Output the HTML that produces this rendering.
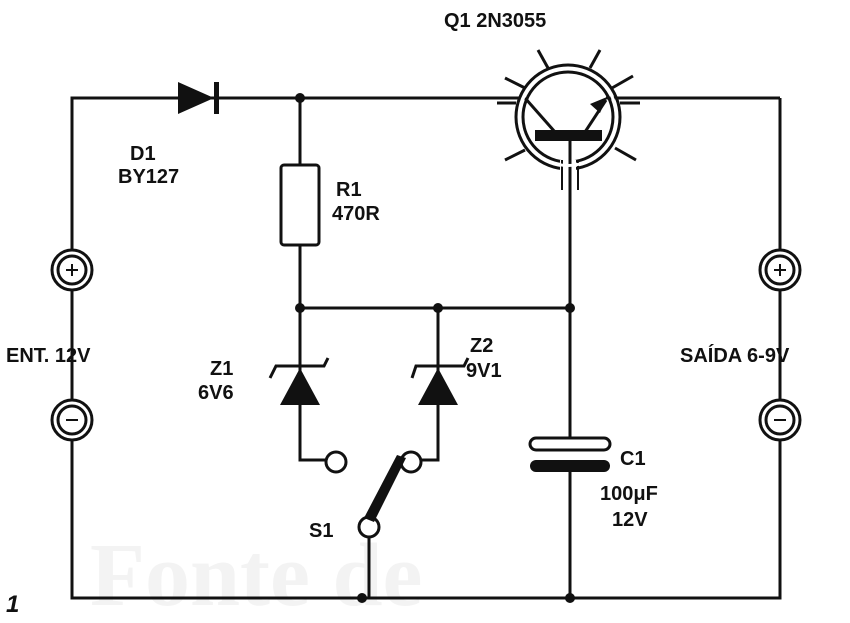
<!DOCTYPE html>
<html><head><style>
body{margin:0;background:#fff;}
svg{display:block;}
text{font-family:"Liberation Sans",sans-serif;font-weight:bold;fill:#111;font-size:20px;}
</style></head><body>
<svg width="850" height="623" viewBox="0 0 850 623" xmlns="http://www.w3.org/2000/svg">
<text x="90" y="605" style="font-size:90px;fill:#f3f3f3;font-family:'Liberation Serif',serif">Fonte de</text>
<g stroke="#111" stroke-width="3" fill="none">
<polyline points="72,250 72,98 520,98"/>
<line x1="606" y1="98" x2="780" y2="98"/>
<line x1="780" y1="98" x2="780" y2="250"/>
<line x1="72" y1="290" x2="72" y2="400"/>
<line x1="780" y1="290" x2="780" y2="400"/>
<polyline points="72,440 72,598 780,598 780,440"/>
<line x1="300" y1="98" x2="300" y2="165"/>
<rect x="281" y="165" width="38" height="80" rx="3"/>
<line x1="300" y1="245" x2="300" y2="308"/>
<line x1="300" y1="308" x2="570" y2="308"/>
<polyline points="300,308 300,460 326,460"/>
<polyline points="270,378 276,366 324,366 328,358"/>
<polyline points="438,308 438,460 421,460"/>
<polyline points="412,378 416,366 464,366 468,358"/>
<circle cx="336" cy="462" r="10"/>
<circle cx="411" cy="462" r="10"/>
<circle cx="369" cy="527" r="10"/>
<line x1="369" y1="537" x2="369" y2="598"/>
<line x1="570" y1="140" x2="570" y2="438"/>
<rect x="530" y="438" width="80" height="12" rx="6"/>
<line x1="570" y1="470" x2="570" y2="598"/>
<circle cx="72" cy="270" r="20"/><circle cx="72" cy="270" r="14"/>
<circle cx="72" cy="420" r="20"/><circle cx="72" cy="420" r="14"/>
<circle cx="780" cy="270" r="20"/><circle cx="780" cy="270" r="14"/>
<circle cx="780" cy="420" r="20"/><circle cx="780" cy="420" r="14"/>
<line x1="66" y1="270" x2="78" y2="270" stroke-width="2"/><line x1="72" y1="264" x2="72" y2="276" stroke-width="2"/>
<line x1="774" y1="270" x2="786" y2="270" stroke-width="2"/><line x1="780" y1="264" x2="780" y2="276" stroke-width="2"/>
<line x1="66" y1="420" x2="78" y2="420" stroke-width="2"/>
<line x1="774" y1="420" x2="786" y2="420" stroke-width="2"/>
<!-- transistor -->
<circle cx="568" cy="117" r="45"/>
<circle cx="568" cy="117" r="52"/>
<line x1="525" y1="98" x2="555" y2="132"/>
<line x1="585" y1="132" x2="606" y2="100"/>
<line x1="538" y1="50" x2="548" y2="68"/>
<line x1="600" y1="50" x2="590" y2="68"/>
<line x1="505" y1="78" x2="525" y2="88"/>
<line x1="633" y1="76" x2="612" y2="88"/>
<line x1="505" y1="160" x2="525" y2="150"/>
<line x1="636" y1="160" x2="615" y2="148"/>
<line x1="497" y1="103" x2="516" y2="103"/>
<line x1="620" y1="103" x2="640" y2="103"/>
</g>
<rect x="560" y="160" width="16" height="14" fill="#fff"/>
<line x1="570" y1="140" x2="570" y2="180" stroke="#111" stroke-width="3"/>
<line x1="562" y1="160" x2="562" y2="190" stroke="#111" stroke-width="2"/>
<line x1="578" y1="160" x2="578" y2="190" stroke="#111" stroke-width="2"/>
<g fill="#111">
<polygon points="178,82 178,114 214,98"/>
<rect x="214" y="82" width="5" height="32"/>
<circle cx="300" cy="98" r="5"/>
<circle cx="300" cy="308" r="5"/>
<circle cx="438" cy="308" r="5"/>
<circle cx="570" cy="308" r="5"/>
<circle cx="362" cy="598" r="5"/>
<circle cx="570" cy="598" r="5"/>
<polygon points="300,368 280,405 320,405"/>
<polygon points="438,368 418,405 458,405"/>
<polygon points="364,518 374,522 406,458 397,455"/>
<rect x="530" y="460" width="80" height="12" rx="6"/>
<rect x="535" y="130" width="67" height="11"/>
<polygon points="607,97 590,104 600,113"/>
</g>
<circle cx="568" cy="117" r="48.5" fill="none" stroke="#fff" stroke-width="3"/>
<text x="444" y="27">Q1  2N3055</text>
<text x="130" y="160">D1</text>
<text x="118" y="183">BY127</text>
<text x="336" y="196">R1</text>
<text x="332" y="220">470R</text>
<text x="6" y="362">ENT. 12V</text>
<text x="210" y="375">Z1</text>
<text x="198" y="399">6V6</text>
<text x="470" y="352">Z2</text>
<text x="466" y="377">9V1</text>
<text x="680" y="362">SAÍDA 6-9V</text>
<text x="620" y="465">C1</text>
<text x="600" y="500">100μF</text>
<text x="612" y="526">12V</text>
<text x="309" y="537">S1</text>
<text x="6" y="612" style="font-style:italic;font-size:24px">1</text>
</svg>
</body></html>
